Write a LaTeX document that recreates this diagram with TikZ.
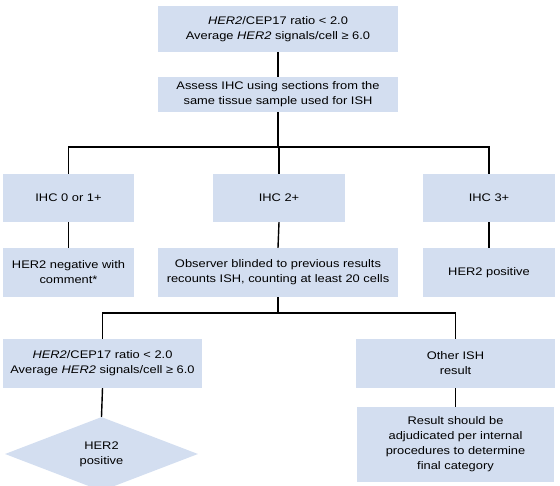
\documentclass[tikz,border=0pt]{standalone}
\usepackage{fontspec}
\setmainfont[FakeStretch=1.17]{Liberation Sans}
\usetikzlibrary{shapes.geometric}
\definecolor{boxblue}{RGB}{211,222,240}
\tikzset{
  box/.style={rectangle, fill=boxblue, inner sep=0pt, align=center, font=\fontsize{11}{15}\selectfont},
  dia/.style={diamond, fill=boxblue, inner sep=0pt, align=center, font=\fontsize{11}{15}\selectfont},
  conn/.style={draw=black, line width=1.4pt}
}
\begin{document}
\begin{tikzpicture}[x=1pt,y=-1pt]
\useasboundingbox (0,0) rectangle (560,486);
\node[box, minimum width=240pt, minimum height=46pt] (b1) at (278,29) {\textit{HER2}/CEP17 ratio < 2.0\\Average \textit{HER2} signals/cell ≥ 6.0};
\node[box, minimum width=240pt, minimum height=35pt] (b2) at (278,94.5) {Assess IHC using sections from the\\same tissue sample used for ISH};
\node[box, minimum width=131pt, minimum height=48pt] (a3) at (68.5,198) {IHC 0 or 1+};
\node[box, minimum width=132pt, minimum height=48pt] (b3) at (279,198) {IHC 2+};
\node[box, minimum width=132pt, minimum height=48pt] (c3) at (489,198) {IHC 3+};
\node[box, minimum width=131pt, minimum height=49pt] (a4) at (68.5,272.5) {HER2 negative with\\comment*};
\node[box, minimum width=240pt, minimum height=49pt] (b4) at (278,272.5) {Observer blinded to previous results\\recounts ISH, counting at least 20 cells};
\node[box, minimum width=132pt, minimum height=49pt] (c4) at (489,272.5) {HER2 positive};
\node[box, minimum width=199pt, minimum height=49pt] (l5) at (102.5,363.5) {\textit{HER2}/CEP17 ratio < 2.0\\Average \textit{HER2} signals/cell ≥ 6.0};
\node[box, minimum width=199pt, minimum height=49pt] (r5) at (455.5,363.5) {Other ISH\\result};
\node[dia, minimum width=193pt, minimum height=74pt] (d6) at (101.5,454) {HER2\\positive};
\node[box, minimum width=197pt, minimum height=75pt] (r6) at (455.5,444.5) {Result should be\\adjudicated per internal\\procedures to determine\\final category};
\coordinate (j1) at (278,147);
\coordinate (j2) at (278,313);
\draw[conn] (b1.south) -- (b2.north);
\draw[conn] (b2.south) -- (j1);
\draw[conn] (a3.north) |- (j1) -| (c3.north);
\draw[conn] (j1) -| (b3.north);
\draw[conn] (a3.south) -- (a4.north);
\draw[conn] (b3.south) -- (b4.north);
\draw[conn] (c3.south) -- (c4.north);
\draw[conn] (b4.south) -- (j2);
\draw[conn] (l5.north) |- (j2) -| (r5.north);
\draw[conn] (l5.south) -- (d6.north);
\draw[conn] (r5.south) -- (r6.north);
\end{tikzpicture}
\end{document}
